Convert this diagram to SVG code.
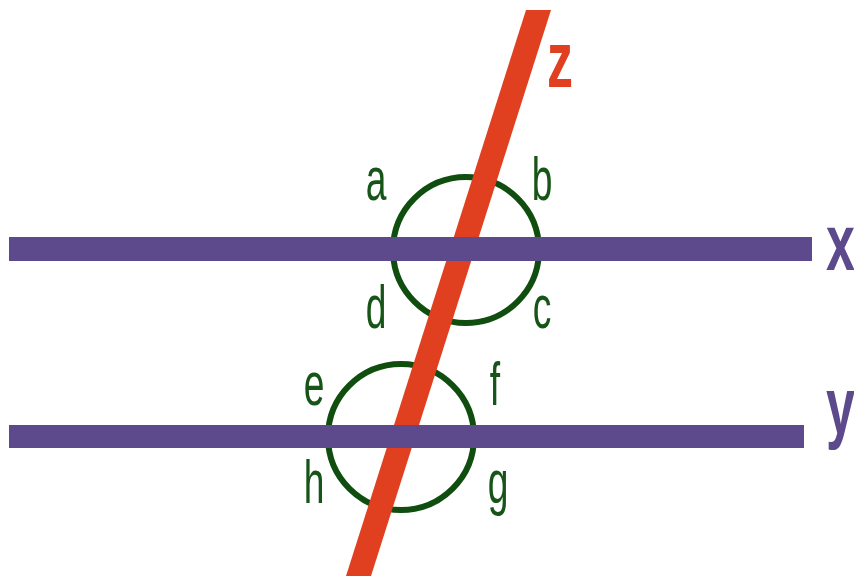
<svg xmlns="http://www.w3.org/2000/svg" width="854" height="576" viewBox="0 0 854 576">
<style>
.ang{fill:none;stroke:#104e10;stroke-width:6}
.lbl{font-family:"Liberation Sans",Arial,sans-serif;font-size:62px;fill:#175417;text-anchor:middle}
.big{font-family:"Liberation Sans",Arial,sans-serif;font-size:80px;font-weight:bold}
</style>
<rect width="854" height="576" fill="#ffffff"/>
<g id="circle1"><circle class="ang" cx="466" cy="250" r="73"/></g>
<g id="circle2"><circle class="ang" cx="401" cy="437" r="73"/></g>
<g id="lines">
<polygon id="z-line" points="526,10 551,10 371,576 346,576" fill="#e0401f"/>
<rect id="x-line" x="9" y="237" width="803" height="24" fill="#5c4a8c"/>
<rect id="y-line" x="9" y="425" width="795" height="23" fill="#5c4a8c"/>
</g>
<g id="labels">
<text class="lbl" transform="translate(376,200) scale(0.6,1)">a</text>
<text class="lbl" transform="translate(542,200) scale(0.6,1)">b</text>
<text class="lbl" transform="translate(542,328) scale(0.6,1)">c</text>
<text class="lbl" transform="translate(376,328) scale(0.6,1)">d</text>
<text class="lbl" transform="translate(314,405) scale(0.6,1)">e</text>
<text class="lbl" transform="translate(495,405) scale(0.6,1)">f</text>
<text class="lbl" transform="translate(498,503) scale(0.6,1)">g</text>
<text class="lbl" transform="translate(314,503) scale(0.6,1)">h</text>
<text class="big" fill="#e0401f" transform="translate(547,87) scale(0.65,1)">z</text>
<text class="big" fill="#5c4a8c" transform="translate(826,270) scale(0.65,1)">x</text>
<text class="big" fill="#5c4a8c" transform="translate(826,433) scale(0.65,1)">y</text>
</g>
</svg>
